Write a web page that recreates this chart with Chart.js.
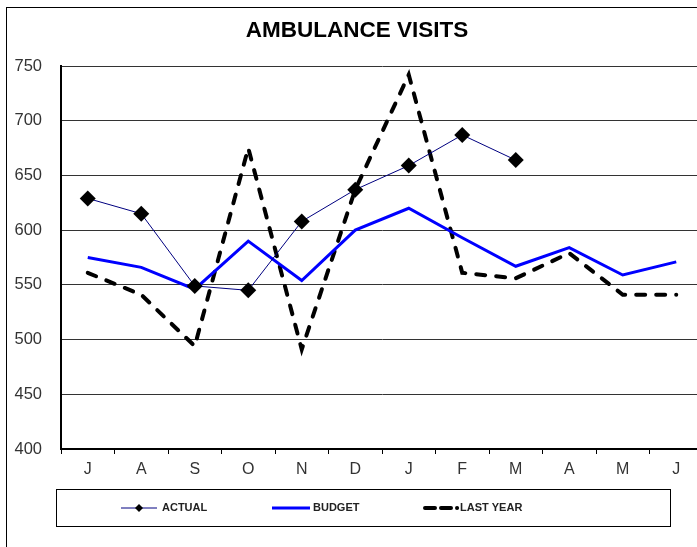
<!DOCTYPE html>
<html>
<head>
<meta charset="utf-8">
<script src="https://cdn.jsdelivr.net/npm/chart.js@4/dist/chart.umd.min.js"></script>
<style>
  html, body { margin: 0; padding: 0; background: #fff; overflow: hidden; }
  #wrap { position: absolute; left: 0; top: 0; width: 720px; height: 547px; }
</style>
</head>
<body>
<div id="wrap"><canvas id="chart" width="720" height="547"></canvas></div>
<script>
// Months of the fiscal year, July through June
const months = ['J', 'A', 'S', 'O', 'N', 'D', 'J', 'F', 'M', 'A', 'M', 'J'];

// Monthly ambulance visits
const actual   = [629, 615, 549, 545, 608, 637, 659, 687, 664, null, null, null];
const budget   = [575, 566, 546, 590, 554, 600, 620, 593, 567, 584, 559, 571];
const lastYear = [561, 541, 494, 675, 491, 637, 742, 561, 556, 579, 541, 541];

// Value axis range
const yMin = 400;
const yMax = 750;
const yStep = 50;

const titleText = 'AMBULANCE VISITS';
const FONT = '"Liberation Sans", Arial, sans-serif';

// Outer frame and title
const framePlugin = {
  id: 'frame',
  beforeDraw(chart) {
    const ctx = chart.ctx;
    ctx.save();
    ctx.fillStyle = '#fff';
    ctx.fillRect(0, 0, chart.width, chart.height);
    ctx.strokeStyle = '#000';
    ctx.lineWidth = 1;
    ctx.strokeRect(6.5, 7.5, 703, 600);
    ctx.restore();
  },
  afterDraw(chart) {
    const ctx = chart.ctx;
    ctx.save();
    ctx.fillStyle = '#000';
    ctx.font = 'bold 22.5px ' + FONT;
    ctx.textAlign = 'center';
    ctx.textBaseline = 'middle';
    ctx.fillText(titleText, 357, 31);
    ctx.restore();
  }
};

// Boxed legend below the axis, drawn from the dataset styles
const boxLegendPlugin = {
  id: 'boxLegend',
  afterDraw(chart) {
    const ctx = chart.ctx;
    ctx.save();
    ctx.strokeStyle = '#000';
    ctx.lineWidth = 1;
    ctx.strokeRect(56.5, 489.5, 614, 37);
    const cy = 508;
    const items = [
      { ds: 0, x0: 121, x1: 157, tx: 162 },
      { ds: 1, x0: 272, x1: 310, tx: 313 },
      { ds: 2, x0: 425, x1: 458, tx: 460, dash: [10, 6, 10, 6, 0.1, 20] }
    ];
    ctx.font = 'bold 11px ' + FONT;
    ctx.textBaseline = 'middle';
    ctx.textAlign = 'left';
    items.forEach(it => {
      const d = chart.data.datasets[it.ds];
      ctx.save();
      ctx.strokeStyle = d.borderColor;
      ctx.lineWidth = d.borderWidth;
      ctx.lineCap = d.borderCapStyle || 'butt';
      ctx.setLineDash(it.dash || d.borderDash || []);
      ctx.beginPath();
      ctx.moveTo(it.x0, cy);
      ctx.lineTo(it.x1, cy);
      ctx.stroke();
      if (d.pointRadius > 0) {
        const mx = (it.x0 + it.x1) / 2;
        const r = 4;
        ctx.setLineDash([]);
        ctx.fillStyle = d.pointBackgroundColor;
        ctx.beginPath();
        ctx.moveTo(mx, cy - r);
        ctx.lineTo(mx + r, cy);
        ctx.lineTo(mx, cy + r);
        ctx.lineTo(mx - r, cy);
        ctx.closePath();
        ctx.fill();
      }
      ctx.restore();
      ctx.fillStyle = '#222';
      ctx.fillText(d.label, it.tx, cy);
    });
    ctx.restore();
  }
};

new Chart(document.getElementById('chart'), {
  type: 'line',
  data: {
    labels: months,
    datasets: [
      {
        label: 'ACTUAL',
        data: actual,
        borderColor: '#000080',
        borderWidth: 1,
        pointStyle: 'rectRot',
        pointRadius: 8,
        pointBackgroundColor: '#000',
        pointBorderColor: '#000',
        pointBorderWidth: 0,
        tension: 0,
        order: 0
      },
      {
        label: 'BUDGET',
        data: budget,
        borderColor: '#0000ff',
        borderWidth: 3,
        pointRadius: 0,
        tension: 0,
        order: 1
      },
      {
        label: 'LAST YEAR',
        data: lastYear,
        borderColor: '#000',
        borderWidth: 4,
        borderDash: [9, 11],
        borderCapStyle: 'round',
        pointRadius: 0,
        tension: 0,
        order: 2
      }
    ]
  },
  options: {
    responsive: false,
    animation: false,
    events: [],
    layout: { padding: { top: 66, left: 0, right: 17, bottom: 68 } },
    plugins: {
      legend: { display: false },
      title: { display: false },
      tooltip: { enabled: false }
    },
    scales: {
      x: {
        offset: true,
        afterFit(scale) { scale.height = 30; },
        grid: {
          offset: true,
          drawOnChartArea: false,
          drawTicks: true,
          tickLength: 5,
          color: '#000',
          lineWidth: 1
        },
        border: { color: '#000', width: 2 },
        ticks: {
          color: '#333',
          font: { family: FONT, size: 16 },
          padding: 6,
          maxRotation: 0,
          autoSkip: false
        }
      },
      y: {
        min: yMin,
        max: yMax,
        afterFit(scale) { scale.width = 61; },
        grid: {
          drawTicks: false,
          color: '#333',
          lineWidth: 1
        },
        border: { color: '#000', width: 2 },
        ticks: {
          stepSize: yStep,
          color: '#333',
          font: { family: FONT, size: 16.5 },
          padding: 19
        }
      }
    }
  },
  plugins: [framePlugin, boxLegendPlugin]
});
</script>
</body>
</html>
